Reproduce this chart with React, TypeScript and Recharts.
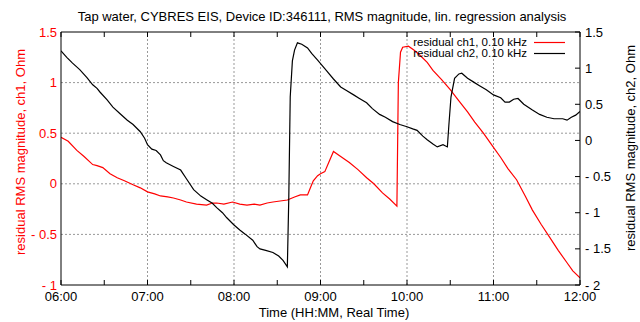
import React from 'react';
import { LineChart, Line, XAxis, YAxis, ReferenceLine } from 'recharts';

// Minutes after 06:00 and residual RMS magnitude (Ohm) for channel 1
const ch1Minutes = [
  0, 5, 11, 16, 22, 25, 29, 34, 39, 44, 50, 55, 60, 65, 69, 74, 78, 83, 87, 94,
  101, 105, 108, 113, 119, 124, 129, 134, 138, 143, 147, 152, 157, 162, 166, 171,
  173, 175, 178, 180, 183, 186, 189, 194, 200, 206, 212, 217, 223, 228, 233, 234,
  235.5, 237, 241, 245, 249, 254, 258, 264, 270, 276, 282, 287, 293, 299, 305, 310,
  316, 322, 327, 333, 339, 345, 351, 355, 360,
];
const ch1Residual = [
  0.46, 0.42, 0.33, 0.27, 0.19, 0.18, 0.16, 0.1, 0.06, 0.03, -0.01, -0.04, -0.08,
  -0.1, -0.12, -0.13, -0.14, -0.16, -0.18, -0.2, -0.21, -0.19, -0.19, -0.2, -0.18,
  -0.2, -0.21, -0.2, -0.21, -0.19, -0.18, -0.17, -0.16, -0.13, -0.11, -0.11, -0.04,
  0.03, 0.08, 0.1, 0.12, 0.22, 0.32, 0.27, 0.21, 0.14, 0.06, 0.0, -0.09, -0.15,
  -0.22, 1.0, 1.3, 1.35, 1.36, 1.32, 1.27, 1.2, 1.12, 1.03, 0.93, 0.82, 0.71, 0.61,
  0.5, 0.38, 0.26, 0.15, 0.04, -0.12, -0.26, -0.4, -0.53, -0.66, -0.78, -0.86, -0.93,
];

// Minutes after 06:00 and residual RMS magnitude (Ohm) for channel 2
const ch2Minutes = [
  0, 4, 8, 13, 18, 22, 25, 27, 32, 36, 41, 46, 50, 55, 58, 60, 63, 66, 69, 71, 73,
  78, 83, 87, 92, 97, 101, 105, 108, 112, 115, 120, 124, 128, 133, 136, 138, 142,
  147, 151, 154, 157, 158, 159, 160.5, 162, 164, 167, 171, 174, 178, 184, 189, 194,
  198, 203, 207, 212, 216, 221, 225, 230, 235, 240, 244, 247, 251, 254, 258, 261,
  265, 268, 269, 270.5, 273, 276, 278, 282, 286, 290, 295, 300, 305, 308, 311, 314,
  317, 321, 327, 332, 337, 342, 348, 351, 354, 357, 360,
];
const ch2Residual = [
  1.24, 1.15, 1.07, 0.98, 0.87, 0.77, 0.72, 0.67, 0.56, 0.46, 0.37, 0.28, 0.22,
  0.12, 0.03, -0.06, -0.12, -0.14, -0.2, -0.28, -0.31, -0.36, -0.41, -0.53, -0.68,
  -0.77, -0.82, -0.87, -0.93, -1.0, -1.07, -1.17, -1.24, -1.3, -1.38, -1.47, -1.5,
  -1.52, -1.55, -1.6, -1.66, -1.75, -0.8, 0.6, 1.1, 1.25, 1.35, 1.33, 1.28, 1.2,
  1.11, 0.97, 0.85, 0.74, 0.69, 0.63, 0.58, 0.52, 0.44, 0.36, 0.32, 0.26, 0.22,
  0.19, 0.16, 0.14, 0.06, 0.01, -0.05, -0.09, -0.06, -0.09, 0.2, 0.6, 0.86, 0.92,
  0.93, 0.86, 0.81, 0.76, 0.7, 0.63, 0.59, 0.53, 0.53, 0.57, 0.58, 0.5, 0.42, 0.36,
  0.32, 0.3, 0.3, 0.28, 0.32, 0.35, 0.4,
];

const timeTicks = [0, 30, 60, 90, 120, 150, 180, 210, 240, 270, 300, 330, 360];
const hourGrid = [60, 120, 180, 240, 300];
const leftTicks = [-1, -0.5, 0, 0.5, 1, 1.5];
const leftGrid = [-0.5, 0, 0.5, 1];
const rightTicks = [-2, -1.5, -1, -0.5, 0, 0.5, 1, 1.5];

const ch1Data = ch1Minutes.map((t, i) => ({ t, v: ch1Residual[i] }));
const ch2Data = ch2Minutes.map((t, i) => ({ t, v: ch2Residual[i] }));

const FONT = 'Liberation Sans, Arial, sans-serif';
const RED = '#ff0000';

const fmtTime = (m: number) => {
  const h = 6 + Math.floor(m / 60);
  const mm = m % 60;
  return `${String(h).padStart(2, '0')}:${String(mm).padStart(2, '0')}`;
};
const fmtNum = (v: number) => (v < 0 ? `- ${Math.abs(v)}` : `${v}`);

const BottomTick = (p: any) => {
  const { x, y, payload } = p;
  const m = payload.value as number;
  return (
    <g>
      <line x1={x} x2={x} y1={y} y2={y - 5} stroke="#000" />
      {m % 60 === 0 && (
        <text x={x} y={y + 16} textAnchor="middle" fontSize={13} fontFamily={FONT} fill="#000">
          {fmtTime(m)}
        </text>
      )}
    </g>
  );
};

const TopTick = (p: any) => {
  const { x, y } = p;
  return <line x1={x} x2={x} y1={y} y2={y + 5} stroke="#000" />;
};

const LeftTick = (p: any) => {
  const { x, y, payload } = p;
  return (
    <text x={x - 4} y={y} dy={4.5} textAnchor="end" fontSize={13} fontFamily={FONT} fill={RED}>
      {fmtNum(payload.value)}
    </text>
  );
};

const RightTick = (p: any) => {
  const { x, y, payload } = p;
  return (
    <g>
      <line x1={x} x2={x - 5} y1={y} y2={y} stroke="#000" />
      <text x={x + 5} y={y} dy={4.5} textAnchor="start" fontSize={13} fontFamily={FONT} fill="#000">
        {fmtNum(payload.value)}
      </text>
    </g>
  );
};

export default function App() {
  return (
    <div style={{ position: 'absolute', left: 0, top: 0, width: 640, height: 322, background: '#fff' }}>
      <LineChart width={640} height={322} data={ch1Data} margin={{ top: 22, right: 0, bottom: 0, left: 0 }}>
        <XAxis
          xAxisId="bottom"
          dataKey="t"
          type="number"
          domain={[0, 360]}
          ticks={timeTicks}
          interval={0}
          height={37}
          tickSize={0}
          tickMargin={0}
          tickLine={false}
          axisLine={{ stroke: '#000' }}
          tick={<BottomTick />}
          allowDataOverflow
        />
        <XAxis
          xAxisId="top"
          orientation="top"
          dataKey="t"
          type="number"
          domain={[0, 360]}
          ticks={timeTicks}
          interval={0}
          height={10}
          tickSize={0}
          tickMargin={0}
          tickLine={false}
          axisLine={{ stroke: '#000' }}
          tick={<TopTick />}
          allowDataOverflow
        />
        <YAxis
          yAxisId="left"
          type="number"
          domain={[-1, 1.5]}
          ticks={leftTicks}
          interval={0}
          width={61}
          tickSize={0}
          tickMargin={0}
          tickLine={false}
          axisLine={{ stroke: '#000' }}
          tick={<LeftTick />}
          allowDataOverflow
        />
        <YAxis
          yAxisId="right"
          orientation="right"
          type="number"
          domain={[-2, 1.5]}
          ticks={rightTicks}
          interval={0}
          width={60}
          tickSize={0}
          tickMargin={0}
          tickLine={false}
          axisLine={{ stroke: '#000' }}
          tick={<RightTick />}
          allowDataOverflow
        />
        {hourGrid.map((m) => (
          <ReferenceLine key={`vx${m}`} xAxisId="bottom" yAxisId="left" x={m} stroke="#999" strokeDasharray="2 2" />
        ))}
        {leftGrid.map((v) => (
          <ReferenceLine key={`hy${v}`} xAxisId="bottom" yAxisId="left" y={v} stroke="#999" strokeDasharray="2 2" />
        ))}
        <Line
          xAxisId="bottom"
          yAxisId="left"
          data={ch1Data}
          dataKey="v"
          stroke={RED}
          strokeWidth={1.2}
          dot={false}
          activeDot={false}
          isAnimationActive={false}
          name="residual ch1, 0.10 kHz"
        />
        <Line
          xAxisId="bottom"
          yAxisId="right"
          data={ch2Data}
          dataKey="v"
          stroke="#000"
          strokeWidth={1.2}
          dot={false}
          activeDot={false}
          isAnimationActive={false}
          name="residual ch2, 0.10 kHz"
        />
      </LineChart>
      <svg
        width={640}
        height={322}
        style={{ position: 'absolute', left: 0, top: 0, pointerEvents: 'none' }}
        fontFamily={FONT}
      >
        <text x={322} y={21} textAnchor="middle" fontSize={13} fill="#000">
          Tap water, CYBRES EIS, Device ID:346111, RMS magnitude, lin. regression analysis
        </text>
        <text x={334} y={317} textAnchor="middle" fontSize={13} fill="#000">
          Time (HH:MM, Real Time)
        </text>
        <text
          x={0}
          y={0}
          transform="translate(25,152) rotate(-90)"
          textAnchor="middle"
          fontSize={13}
          fill={RED}
        >
          residual RMS magnitude, ch1, Ohm
        </text>
        <text
          x={0}
          y={0}
          transform="translate(635,148) rotate(-90)"
          textAnchor="middle"
          fontSize={13}
          fill="#000"
        >
          residual RMS magnitude, ch2, Ohm
        </text>
        <text x={527} y={46} textAnchor="end" fontSize={11.5} fill="#000">
          residual ch1, 0.10 kHz
        </text>
        <line x1={534} x2={565} y1={42.5} y2={42.5} stroke={RED} strokeWidth={1.2} />
        <text x={527} y={57} textAnchor="end" fontSize={11.5} fill="#000">
          residual ch2, 0.10 kHz
        </text>
        <line x1={534} x2={565} y1={53.5} y2={53.5} stroke="#000" strokeWidth={1.2} />
      </svg>
    </div>
  );
}
